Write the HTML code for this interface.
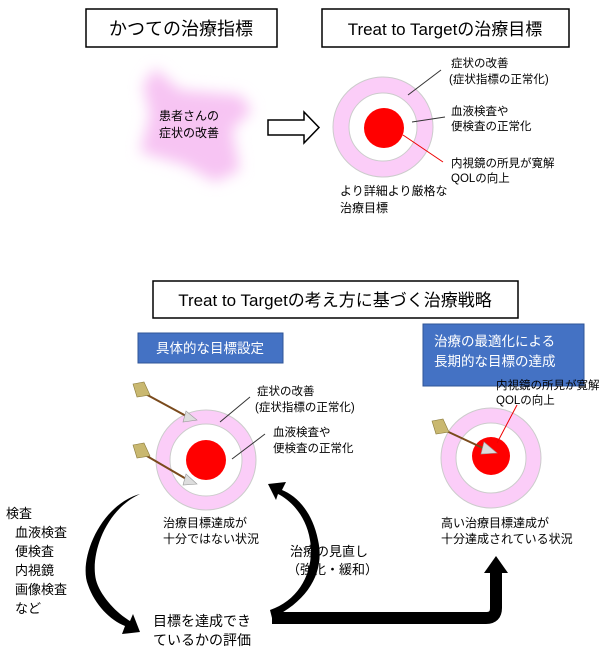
<!DOCTYPE html>
<html><head><meta charset="utf-8"><style>
html,body{margin:0;padding:0;background:#fff}
svg text{font-family:"Liberation Sans","Noto Sans CJK JP",sans-serif;fill:#000}
</style></head><body>
<svg width="600" height="653" viewBox="0 0 600 653" xmlns="http://www.w3.org/2000/svg">
<defs>
<filter id="blur" x="-30%" y="-30%" width="160%" height="160%"><feGaussianBlur stdDeviation="7"/></filter>
</defs>
<!-- top title boxes -->
<rect x="86" y="9" width="191" height="38" fill="#fff" stroke="#000" stroke-width="1.5"/>
<text x="181" y="35" font-size="18" text-anchor="middle">かつての治療指標</text>
<rect x="322" y="9" width="247" height="38" fill="#fff" stroke="#000" stroke-width="1.5"/>
<text x="445" y="35" font-size="17" text-anchor="middle">Treat to Targetの治療目標</text>
<!-- blob -->
<path d="M155 68 L180 90 L240 95 L252 110 L232 130 L240 170 L215 182 L185 165 L140 152 L150 115 L143 85 Z" fill="#f7c4f3" filter="url(#blur)"/>
<text x="189" y="120" font-size="12" text-anchor="middle">患者さんの</text>
<text x="189" y="137" font-size="12" text-anchor="middle">症状の改善</text>
<!-- hollow arrow -->
<polygon points="268,120 304,120 304,112 319,127.5 304,143 304,135 268,135" fill="#fff" stroke="#000" stroke-width="1.5"/>
<!-- target 1 -->
<circle cx="383" cy="127" r="50" fill="#fbcdf8" stroke="#ccc"/>
<circle cx="383" cy="127" r="34" fill="#fff" stroke="#ccc"/>
<circle cx="384" cy="128" r="20" fill="#f00"/>
<line x1="408" y1="95" x2="441" y2="70" stroke="#333"/>
<line x1="412" y1="122" x2="445" y2="117" stroke="#333"/>
<line x1="403" y1="135" x2="443" y2="162" stroke="#e00"/>
<text x="451" y="67" font-size="11.5">症状の改善</text>
<text x="449" y="83" font-size="11.5">(症状指標の正常化)</text>
<text x="451" y="115" font-size="11.5">血液検査や</text>
<text x="451" y="130" font-size="11.5">便検査の正常化</text>
<text x="451" y="167" font-size="11.5">内視鏡の所見が寛解</text>
<text x="451" y="182" font-size="11.5">QOLの向上</text>
<text x="340" y="195" font-size="12">より詳細より厳格な</text>
<text x="340" y="212" font-size="12">治療目標</text>
<!-- bottom title -->
<rect x="153" y="281" width="365" height="37" fill="#fff" stroke="#000" stroke-width="1.5"/>
<text x="335" y="306" font-size="17" text-anchor="middle">Treat to Targetの考え方に基づく治療戦略</text>
<rect x="138" y="333" width="145" height="30" fill="#4472c4" stroke="#2f5597"/>
<text x="210" y="353" font-size="13.5" text-anchor="middle" style="fill:#fff">具体的な目標設定</text>
<rect x="423" y="324" width="161" height="62" fill="#4472c4" stroke="#2f5597"/>
<text x="434" y="346" font-size="13.5" style="fill:#fff">治療の最適化による</text>
<text x="434" y="366" font-size="13.5" style="fill:#fff">長期的な目標の達成</text>
<!-- target 2 -->
<circle cx="206" cy="460" r="50" fill="#fbcdf8" stroke="#ccc"/>
<circle cx="206" cy="460" r="36" fill="#fff" stroke="#ccc"/>
<circle cx="206" cy="460" r="20" fill="#f00"/>
<line x1="220" y1="422" x2="250" y2="397" stroke="#333"/>
<line x1="232" y1="459" x2="265" y2="434" stroke="#333"/>
<text x="257" y="395" font-size="11.5">症状の改善</text>
<text x="255" y="411" font-size="11.5">(症状指標の正常化)</text>
<text x="273" y="436" font-size="11.5">血液検査や</text>
<text x="273" y="452" font-size="11.5">便検査の正常化</text>
<!-- target 3 -->
<circle cx="491" cy="458" r="50" fill="#fbcdf8" stroke="#ccc"/>
<circle cx="491" cy="458" r="35" fill="#fff" stroke="#ccc"/>
<circle cx="491" cy="456" r="19" fill="#f00"/>
<line x1="497" y1="443" x2="517" y2="405" stroke="#e00"/>
<text x="496" y="389" font-size="11.5">内視鏡の所見が寛解</text>
<text x="496" y="404" font-size="11.5">QOLの向上</text>
<!-- darts -->
<g stroke="#7a4a1c" stroke-width="2">
<line x1="140" y1="391" x2="188" y2="417"/>
<line x1="140" y1="452" x2="188" y2="480"/>
<line x1="440" y1="428" x2="485" y2="449"/>
</g>
<g fill="#c9b870" stroke="#8a7a3a" stroke-width="0.6">
<polygon points="133,384 144,382 150,395 137,397"/>
<polygon points="133,445 144,443 150,456 137,458"/>
<polygon points="432,421 443,419 449,432 436,434"/>
</g>
<g fill="#ddd" stroke="#999" stroke-width="0.6">
<polygon points="186,411 197,420 183,422"/>
<polygon points="186,474 197,484 183,485"/>
<polygon points="484,442 497,453 481,454"/>
</g>
<!-- black arrows -->
<path d="M140 484 L140 494 C100 505 78 560 88 585 C95 605 110 620 125 626 L122 634 L140 632 L133 614 L130 621 C115 612 100 595 96 580 C90 555 105 510 140 494 Z" fill="#000"/>
<path d="M272 618 C310 600 325 570 318 540 C312 510 295 495 282 490 L286 482 L268 484 L276 500 L278 494 C290 500 306 515 310 540 C315 570 300 600 270 610 Z" fill="#000"/>
<path d="M272 618 L486 618 Q496 618 496 608 L496 572" fill="none" stroke="#000" stroke-width="12"/>
<polygon points="484,573 508,573 496,556" fill="#000"/>
<!-- text -->
<text x="163" y="527" font-size="12">治療目標達成が</text>
<text x="163" y="543" font-size="12">十分ではない状況</text>
<text x="441" y="527" font-size="12">高い治療目標達成が</text>
<text x="441" y="543" font-size="12">十分達成されている状況</text>
<text x="290" y="556" font-size="13">治療の見直し</text>
<text x="287" y="574" font-size="13">（強化・緩和）</text>
<text x="6" y="518" font-size="13">検査</text>
<text x="15" y="537" font-size="13">血液検査</text>
<text x="15" y="556" font-size="13">便検査</text>
<text x="15" y="575" font-size="13">内視鏡</text>
<text x="15" y="594" font-size="13">画像検査</text>
<text x="15" y="613" font-size="13">など</text>
<text x="153" y="626" font-size="14">目標を達成でき</text>
<text x="153" y="645" font-size="14">ているかの評価</text>
</svg>
</body></html>
